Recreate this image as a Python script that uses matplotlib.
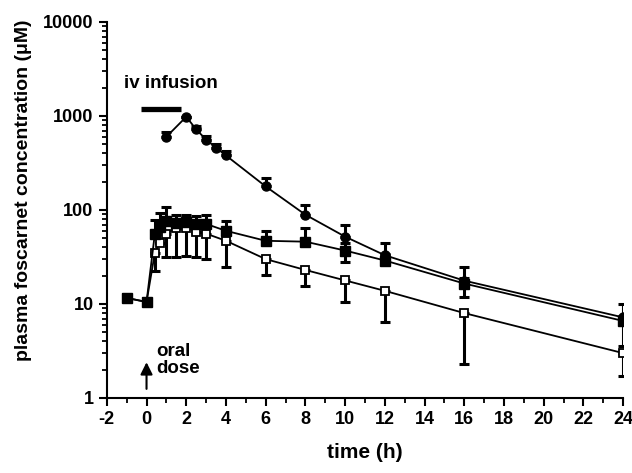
import numpy as np
import matplotlib
matplotlib.use('Agg')
import matplotlib.pyplot as plt
from matplotlib.ticker import FixedLocator, NullFormatter, LogLocator

plt.rcParams['font.family'] = ['Liberation Sans', 'DejaVu Sans']
plt.rcParams['font.weight'] = 'bold'
plt.rcParams['axes.unicode_minus'] = False

# iv infusion (filled circles)
t_iv = [1, 2, 2.5, 3, 3.5, 4, 6, 8, 10, 12, 16, 24]
c_iv = [600, 980, 720, 560, 460, 380, 178, 89, 52, 33, 17.7, 7.2]
c_iv_up = [680, 980, 780, 610, 500, 420, 220, 113, 69, 45, 24.5, 10]

# oral dose (filled squares)
t_sq = [-1, 0, 0.42, 0.67, 1, 1.5, 2, 2.5, 3, 4, 6, 8, 10, 12, 16, 24]
c_sq = [11.6, 10.5, 56, 66, 76, 72, 74, 71, 71, 60, 47, 46, 37, 29, 16.5, 6.6]
c_sq_up = [11.6, 10.5, 78, 92, 108, 88, 88, 86, 89, 77, 60, 64, 44, 34, 19, 7.5]
c_sq_lo = [11.6, 10.5, 56, 66, 76, 72, 74, 71, 71, 60, 47, 46, 27.8, 29, 11.8, 3.6]

# oral dose (open squares)
t_op = [-1, 0, 0.42, 0.67, 1, 1.5, 2, 2.5, 3, 4, 6, 8, 10, 12, 16, 24]
c_op = [11.6, 10.5, 35, 45, 56, 65, 65, 59, 56, 47, 30, 23, 17.8, 13.8, 8.0, 3.0]
c_op_lo = [11.6, 10.5, 22.4, 45, 31.6, 31.8, 32.6, 31.8, 30, 24.6, 20.5, 15.7, 10.4, 6.5, 2.3, 1.7]

fig = plt.figure(figsize=(6.32, 4.73), dpi=100)
ax = fig.add_axes([0.169, 0.1586, 0.817, 0.795])

err_kw = dict(ecolor='black', elinewidth=2.2, capsize=3.5, capthick=2.2)

# open squares
c_op = np.array(c_op)
ax.errorbar(t_op, c_op, yerr=[c_op - np.array(c_op_lo), np.zeros_like(c_op)],
            fmt='none', zorder=2, **err_kw)
ax.plot(t_op, c_op, '-', color='black', lw=1.3, marker='s', ms=6,
        mfc='white', mec='black', mew=1.3, zorder=3)

# filled squares
c_sq = np.array(c_sq)
ax.errorbar(t_sq, c_sq, yerr=[c_sq - np.array(c_sq_lo), np.array(c_sq_up) - c_sq],
            fmt='none', zorder=4, **err_kw)
ax.plot(t_sq, c_sq, '-', color='black', lw=1.3, marker='s', ms=7,
        mfc='black', mec='black', zorder=5)

# filled circles
c_iv = np.array(c_iv)
ax.errorbar(t_iv, c_iv, yerr=[np.zeros_like(c_iv), np.array(c_iv_up) - c_iv],
            fmt='none', zorder=6, **err_kw)
ax.plot(t_iv, c_iv, '-', color='black', lw=1.3, marker='o', ms=6.5,
        mfc='black', mec='black', zorder=7)

ax.set_yscale('log')
ax.set_xlim(-2, 24)
ax.set_ylim(1, 10000)
ax.spines['top'].set_visible(False)
ax.spines['right'].set_visible(False)
ax.spines['left'].set_linewidth(1.5)
ax.spines['bottom'].set_linewidth(1.5)

ax.xaxis.set_major_locator(FixedLocator(np.arange(-2, 25, 2)))
ax.xaxis.set_minor_locator(FixedLocator(np.arange(-1, 24, 2)))
ax.yaxis.set_minor_locator(LogLocator(base=10, subs=np.arange(2, 10), numticks=20))
ax.yaxis.set_minor_formatter(NullFormatter())
ax.set_yticks([1, 10, 100, 1000, 10000])
ax.set_yticklabels(['1', '10', '100', '1000', '10000'])

ax.tick_params(which='major', direction='out', length=6, width=1.5, labelsize=13)
ax.tick_params(which='minor', direction='out', length=3.5, width=1.3)
for lab in ax.get_xticklabels() + ax.get_yticklabels():
    lab.set_fontweight('bold')

ax.set_ylabel('plasma foscarnet concentration (\u03bcM)', fontsize=14, fontweight='bold')
ax.yaxis.set_label_coords(-0.145, 0.553)
ax.set_xlabel('time (h)', fontsize=15, fontweight='bold', labelpad=11)

# iv infusion bar
ax.plot([-0.3, 1.75], [1180, 1180], color='black', lw=3.8, solid_capstyle='butt', zorder=8)
ax.text(-1.15, 2240, 'iv infusion', fontsize=13.5, fontweight='bold', ha='left', va='center')

# oral dose arrow
ax.annotate('', xy=(0, 2.4), xytext=(0, 1.25),
            arrowprops=dict(arrowstyle='-|>', color='black', lw=1.5, mutation_scale=18,
                            shrinkA=0, shrinkB=0))
ax.text(0.5, 10 ** 0.4, 'oral\ndose', fontsize=13.5, fontweight='bold',
        ha='left', va='center', linespacing=1.0)

fig.savefig('out.png', dpi=100)
